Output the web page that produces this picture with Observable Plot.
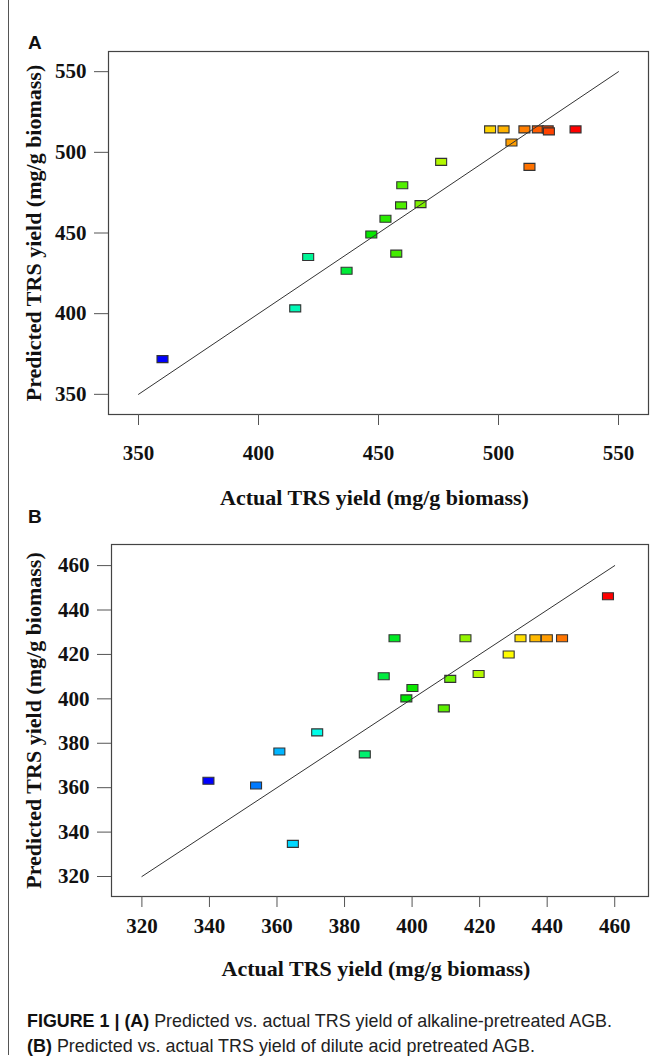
<!DOCTYPE html>
<html><head><meta charset="utf-8">
<script src="https://cdn.jsdelivr.net/npm/d3@7"></script>
<script src="https://cdn.jsdelivr.net/npm/@observablehq/plot@0.6"></script>
<style>
html,body{margin:0;padding:0;background:#fff;}
#fig{position:relative;width:655px;height:1064px;overflow:hidden;background:#fff;}
.panel{position:absolute;left:0;z-index:1;}
.tag{position:absolute;z-index:2;font:bold 19px/19px "Liberation Sans",Arial,sans-serif;color:#111;}
#border{position:absolute;z-index:2;left:8px;top:0;width:0;height:1055px;border-left:1.5px solid #555;}
.cap{position:absolute;z-index:2;left:27px;white-space:nowrap;font:19px/19px "Liberation Sans",Arial,sans-serif;color:#222;transform-origin:0 0;}
.cap b{font-weight:bold;color:#111;}
</style></head><body>
<div id="fig">
  <div id="pA" class="panel" style="top:0px"></div>
  <div id="pB" class="panel" style="top:510px"></div>
  <div id="border"></div>
  <div class="tag" style="left:28px;top:33px">A</div>
  <div class="tag" style="left:28px;top:507px">B</div>
  <div class="cap" id="cap1" data-w="585" style="top:1011px"><b>FIGURE 1 | (A)</b> Predicted vs. actual TRS yield of alkaline-pretreated AGB.</div>
  <div class="cap" id="cap2" data-w="508" style="top:1036px"><b>(B)</b> Predicted vs. actual TRS yield of dilute acid pretreated AGB.</div>
</div>
<script>
// ---------- Data ----------
// Panel A: alkaline-pretreated AGB
const actualA = [360.0, 415.3, 420.7, 436.7, 447.0, 452.9, 457.4, 459.4, 459.9, 467.5, 476.1,
                 496.5, 502.1, 505.4, 510.8, 512.9, 516.4, 520.5, 521.0, 532.1];
const predA   = [371.8, 403.3, 435.1, 426.6, 449.1, 458.8, 437.2, 467.1, 479.6, 467.9, 494.1,
                 514.2, 514.2, 506.1, 514.2, 491.0, 514.2, 514.2, 513.0, 514.2];
const ticksA = [350, 400, 450, 500, 550];
const diagA = [350, 550];

// Panel B: dilute acid pretreated AGB
const actualB = [339.7, 353.8, 360.7, 364.7, 371.9, 386.0, 391.6, 394.8, 398.3, 400.1,
                 409.4, 411.3, 415.8, 419.7, 428.6, 432.1, 436.5, 439.9, 444.4, 458.0];
const predB   = [363.1, 361.0, 376.3, 334.7, 384.9, 375.0, 410.2, 427.3, 400.2, 404.9,
                 395.7, 409.0, 427.3, 411.2, 420.0, 427.3, 427.3, 427.3, 427.3, 446.2];
const ticksB = [320, 340, 360, 380, 400, 420, 440, 460];
const diagB = [320, 460];

const xTitle = "Actual TRS yield (mg/g biomass)";
const yTitle = "Predicted TRS yield (mg/g biomass)";
const ramp = ["#0000ff", "#00ffff", "#00e600", "#ffff00", "#ff0000"];

// ---------- Drawing ----------
const serif = "'Liberation Serif','Times New Roman',serif";
const rectSymbol = {draw(ctx) { ctx.rect(-5.5, -3.5, 11, 7); }};

function panel({actual, pred, ticks, diag, xDomain, yDomain, height, margins, xPad, xTitleDy, yTitleDx}) {
  const data = actual.map((a, i) => ({actual: a, pred: pred[i]}));
  const [lo, hi] = d3.extent(actual);
  const cDomain = d3.range(ramp.length).map(i => lo + (hi - lo) * i / (ramp.length - 1));
  return Plot.plot({
    width: 655, height,
    ...margins,
    style: {fontFamily: serif, fontWeight: "bold", background: "transparent", color: "#111", overflow: "visible"},
    x: {domain: xDomain},
    y: {domain: yDomain},
    color: {type: "linear", domain: cDomain, range: ramp, interpolate: "rgb"},
    marks: [
      Plot.frame({stroke: "#444", strokeWidth: 1.2}),
      Plot.axisX(ticks, {tickSize: 11, tickPadding: xPad, fontSize: 21, fontWeight: "bold", stroke: "#555", fill: "#111", label: null}),
      Plot.axisY(ticks, {tickSize: 14, tickPadding: 8, fontSize: 21, fontWeight: "bold", stroke: "#555", fill: "#111", label: null}),
      Plot.dot(data, {x: "actual", y: "pred", fill: "actual", stroke: "#333", strokeWidth: 1.1, symbol: rectSymbol}),
      Plot.line(diag, {x: d => d, y: d => d, stroke: "#333", strokeWidth: 1}),
      Plot.text([xTitle], {text: d => d, frameAnchor: "bottom", dy: xTitleDy, dx: -4, fontSize: 22, fontWeight: "bold", fill: "#111", textAnchor: "middle", lineAnchor: "middle"}),
      Plot.text([yTitle], {text: d => d, frameAnchor: "left", dx: yTitleDx, rotate: -90, fontSize: 22, fontWeight: "bold", fill: "#111", textAnchor: "middle", lineAnchor: "middle"})
    ]
  });
}

document.getElementById("pA").append(panel({
  actual: actualA, pred: predA, ticks: ticksA, diag: diagA,
  xDomain: [337.5, 562.5], yDomain: [337.5, 562.5], height: 510,
  margins: {marginTop: 51, marginBottom: 96, marginLeft: 108, marginRight: 7},
  xPad: 20, xTitleDy: 83, yTitleDx: -75
}));
document.getElementById("pB").append(panel({
  actual: actualB, pred: predB, ticks: ticksB, diag: diagB,
  xDomain: [311, 470], yDomain: [311, 469.5], height: 480,
  margins: {marginTop: 34, marginBottom: 94, marginLeft: 111, marginRight: 7},
  xPad: 11, xTitleDy: 72, yTitleDx: -78
}));

// fit caption lines to the reference widths
for (const el of document.querySelectorAll(".cap")) {
  const w = el.getBoundingClientRect().width;
  const target = +el.dataset.w;
  el.style.transform = `scaleX(${target / w})`;
}
</script>
</body></html>
